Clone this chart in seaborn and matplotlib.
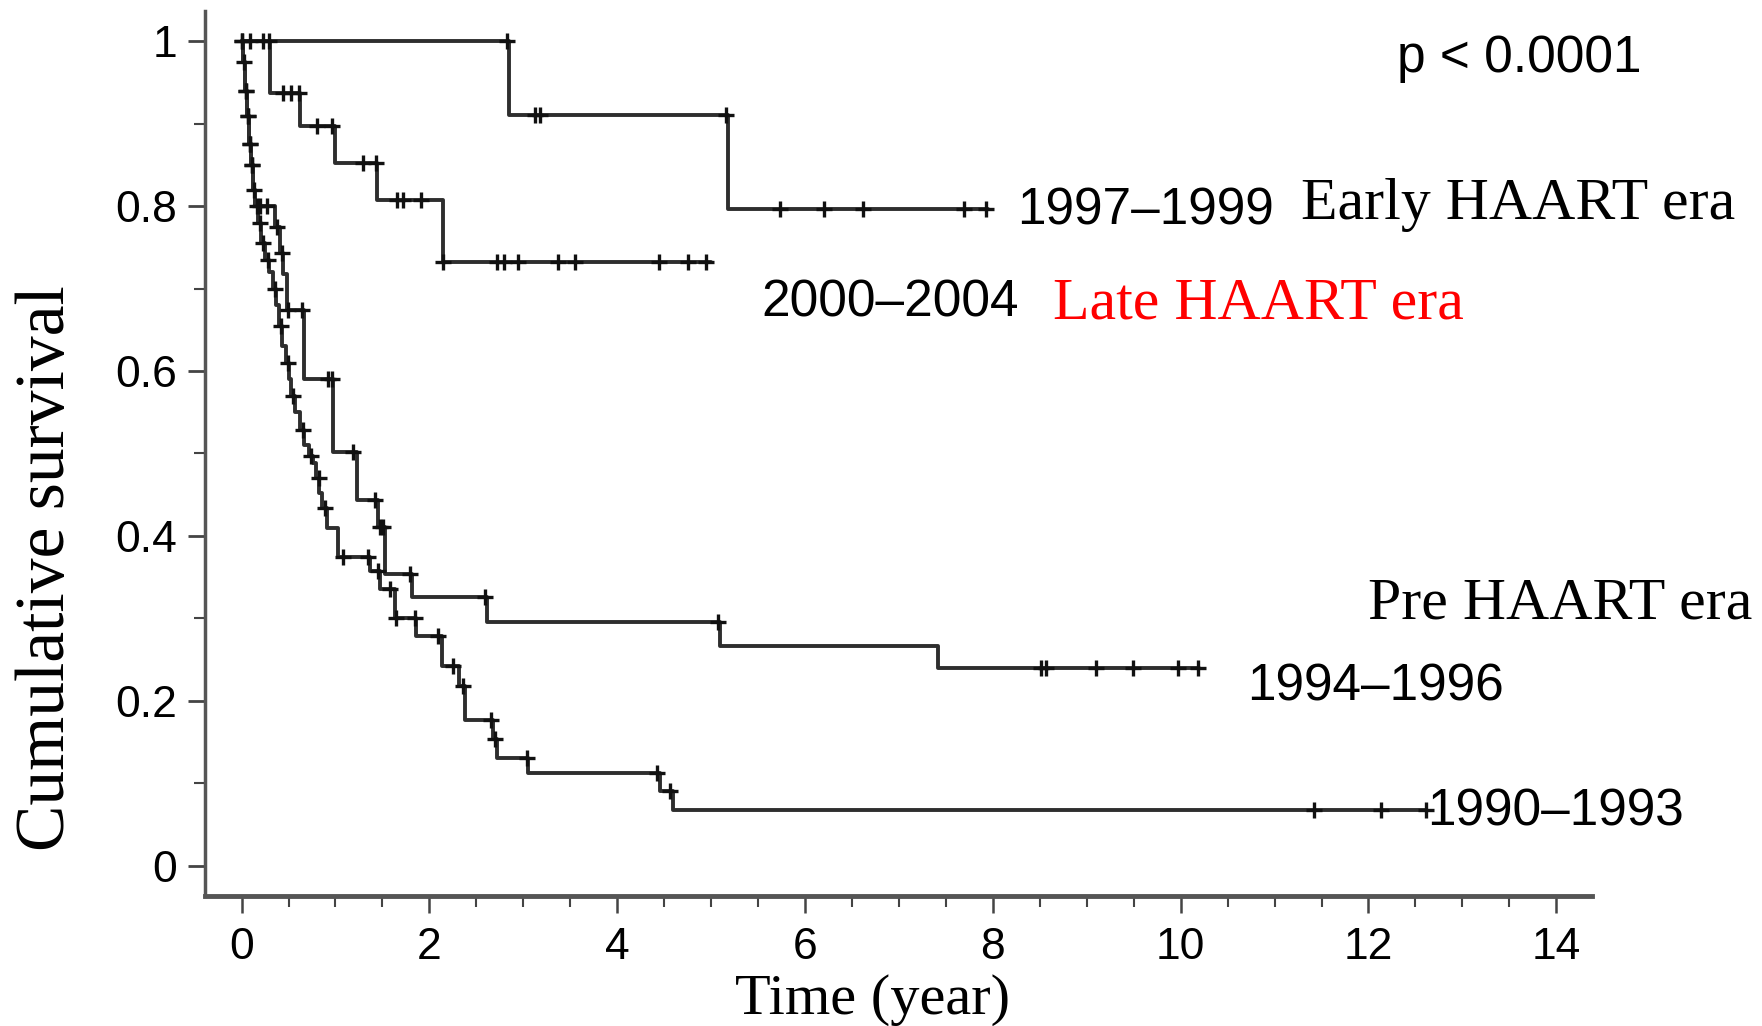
import numpy as np
import pandas as pd
import matplotlib
matplotlib.use('Agg')
import matplotlib.pyplot as plt
import seaborn as sns
from matplotlib.ticker import MultipleLocator, FixedLocator, FixedFormatter

# ---------------- data ----------------
periods = ['1990–1993', '1994–1996', '1997–1999', '2000–2004']

# step times (years) and survival after each step; last entry = end of follow-up
t_9093 = [0, 0.02, 0.04, 0.06, 0.08, 0.10, 0.12, 0.14, 0.17, 0.21, 0.25, 0.29, 0.33, 0.37,
          0.40, 0.43, 0.47, 0.50, 0.53, 0.57, 0.62, 0.67, 0.72, 0.76, 0.79, 0.83, 0.86,
          0.91, 1.03, 1.37, 1.47, 1.63, 1.86, 2.13, 2.32, 2.38, 2.68, 2.72, 3.05, 4.46,
          4.59, 12.6]
s_9093 = [1.0, 0.975, 0.94, 0.91, 0.875, 0.85, 0.82, 0.80, 0.78, 0.755, 0.735, 0.72, 0.70,
          0.68, 0.655, 0.63, 0.61, 0.59, 0.57, 0.55, 0.528, 0.51, 0.497, 0.488, 0.47, 0.452,
          0.434, 0.409, 0.374, 0.358, 0.336, 0.300, 0.279, 0.242, 0.218, 0.176, 0.154,
          0.130, 0.112, 0.091, 0.067, 0.067]
c_9093 = [0.005, 0.03, 0.05, 0.07, 0.09, 0.11, 0.13, 0.16, 0.20, 0.23, 0.28, 0.36, 0.42,
          0.49, 0.55, 0.65, 0.74, 0.82, 0.89, 1.08, 1.35, 1.45, 1.58, 1.65, 1.85, 2.09,
          2.25, 2.36, 2.66, 2.70, 3.04, 4.42, 4.56, 11.42, 12.13, 12.61]

t_9496 = [0, 0.02, 0.04, 0.06, 0.08, 0.10, 0.12, 0.14, 0.36, 0.41, 0.44, 0.48, 0.66, 0.97,
          1.23, 1.45, 1.53, 1.82, 2.61, 5.09, 7.42, 10.2]
s_9496 = [1.0, 0.975, 0.94, 0.91, 0.875, 0.85, 0.82, 0.80, 0.775, 0.743, 0.718, 0.674,
          0.591, 0.502, 0.444, 0.411, 0.354, 0.326, 0.296, 0.266, 0.240, 0.240]
c_9496 = [0.01, 0.045, 0.065, 0.09, 0.115, 0.20, 0.27, 0.38, 0.43, 0.49, 0.64, 0.92, 0.96,
          1.19, 1.42, 1.47, 1.51, 1.79, 2.59, 5.07, 8.51, 8.57, 9.10, 9.49, 9.97, 10.18]

t_9799 = [0, 2.85, 5.18, 7.95]
s_9799 = [1.0, 0.911, 0.797, 0.797]
c_9799 = [0.09, 0.23, 2.83, 3.13, 3.18, 5.16, 5.73, 6.20, 6.62, 7.69, 7.93]

t_0004 = [0, 0.30, 0.62, 1.00, 1.44, 2.14, 5.0]
s_0004 = [1.0, 0.938, 0.898, 0.853, 0.808, 0.732, 0.732]
c_0004 = [0.29, 0.44, 0.53, 0.61, 0.80, 0.96, 1.29, 1.43, 1.66, 1.72, 1.91, 2.15, 2.72,
          2.80, 2.94, 3.37, 3.55, 4.44, 4.75, 4.95]

y_ticks = [0, 0.2, 0.4, 0.6, 0.8, 1.0]
y_ticklabels = ['0', '0.2', '0.4', '0.6', '0.8', '1']
x_ticks = [0, 2, 4, 6, 8, 10, 12, 14]

# ---------------- build tables ----------------
curves = {
    '1990–1993': (t_9093, s_9093, c_9093),
    '1994–1996': (t_9496, s_9496, c_9496),
    '1997–1999': (t_9799, s_9799, c_9799),
    '2000–2004': (t_0004, s_0004, c_0004),
}
line_rows, cens_rows = [], []
for name in periods:
    t, s, c = curves[name]
    for ti, si in zip(t, s):
        line_rows.append({'period': name, 'time': ti, 'surv': si})
    t_arr, s_arr = np.asarray(t), np.asarray(s)
    for ci in c:
        idx = np.searchsorted(t_arr, ci, side='right') - 1
        cens_rows.append({'period': name, 'time': ci, 'surv': s_arr[idx]})
lines = pd.DataFrame(line_rows)
cens = pd.DataFrame(cens_rows)

# ---------------- style ----------------
sns.set_style('ticks')
plt.rcParams['font.family'] = ['Liberation Sans', 'DejaVu Sans']
plt.rcParams['text.color'] = 'black'
plt.rcParams['axes.labelcolor'] = 'black'
plt.rcParams['xtick.color'] = 'black'
plt.rcParams['ytick.color'] = 'black'
serif = ['Liberation Serif', 'DejaVu Serif']
line_col = '#2e2e2e'

fig = plt.figure(figsize=(17.62, 10.26), dpi=100)
fig.patch.set_facecolor('white')
ax = fig.add_axes([0.1163, 0.1267, 0.7872, 0.8626])
ax.set_facecolor('white')

sns.lineplot(data=lines, x='time', y='surv', hue='period',
             palette={p: line_col for p in periods}, estimator=None, sort=False,
             drawstyle='steps-post', legend=False, linewidth=2.8, ax=ax)
sns.scatterplot(data=cens, x='time', y='surv', marker='+', s=140, linewidth=2.4,
                color='#111111', legend=False, ax=ax, zorder=3)

ax.set_xlim(-0.39, 14.38)
ax.set_ylim(-0.037, 1.037)

ax.xaxis.set_major_locator(FixedLocator(x_ticks))
ax.xaxis.set_minor_locator(MultipleLocator(0.5))
ax.yaxis.set_major_locator(FixedLocator(y_ticks))
ax.yaxis.set_major_formatter(FixedFormatter(y_ticklabels))
ax.yaxis.set_minor_locator(MultipleLocator(0.1))

ax.tick_params(axis='both', which='both', direction='out', color='#444444',
               labelcolor='black')
ax.tick_params(axis='y', which='major', length=12, width=2, labelsize=32, pad=8)
ax.tick_params(axis='y', which='minor', length=8, width=1.5)
ax.tick_params(axis='x', which='major', length=12, width=1.8, labelsize=32, pad=10)
ax.tick_params(axis='x', which='minor', length=8, width=1.5)

sns.despine(ax=ax)
ax.spines['left'].set_color('#555555')
ax.spines['left'].set_linewidth(2.5)
ax.spines['bottom'].set_color('#555555')
ax.spines['bottom'].set_linewidth(3.5)

ax.set_xlabel('Time (year)', fontsize=42, family=serif, va='center', color='black')
ax.xaxis.set_label_coords(0.4816, -0.1175)
ax.set_ylabel('Cumulative survival', fontsize=50, family=serif, va='center', color='black')
ax.yaxis.set_label_coords(-0.114, 0.371)

# annotations
ax.text(12.30, 0.963, 'p < 0.0001', fontsize=37, ha='left', va='baseline', color='black')
ax.text(8.26, 0.778, '1997–1999', fontsize=37, ha='left', va='baseline', color='black')
ax.text(11.28, 0.784, 'Early HAART era', fontsize=43, family=serif, ha='left',
        va='baseline', color='black')
ax.text(5.54, 0.666, '2000–2004', fontsize=37, ha='left', va='baseline', color='black')
ax.text(8.64, 0.664, 'Late HAART era', fontsize=43, family=serif, color='#ff0000',
        ha='left', va='baseline')
ax.text(12.0, 0.300, 'Pre HAART era', fontsize=43, family=serif, ha='left',
        va='baseline', color='black')
ax.text(10.71, 0.2005, '1994–1996', fontsize=37, ha='left', va='baseline', color='black')
ax.text(12.62, 0.049, '1990–1993', fontsize=37, ha='left', va='baseline', color='black')

fig.savefig('out.png', dpi=100, facecolor='white')
